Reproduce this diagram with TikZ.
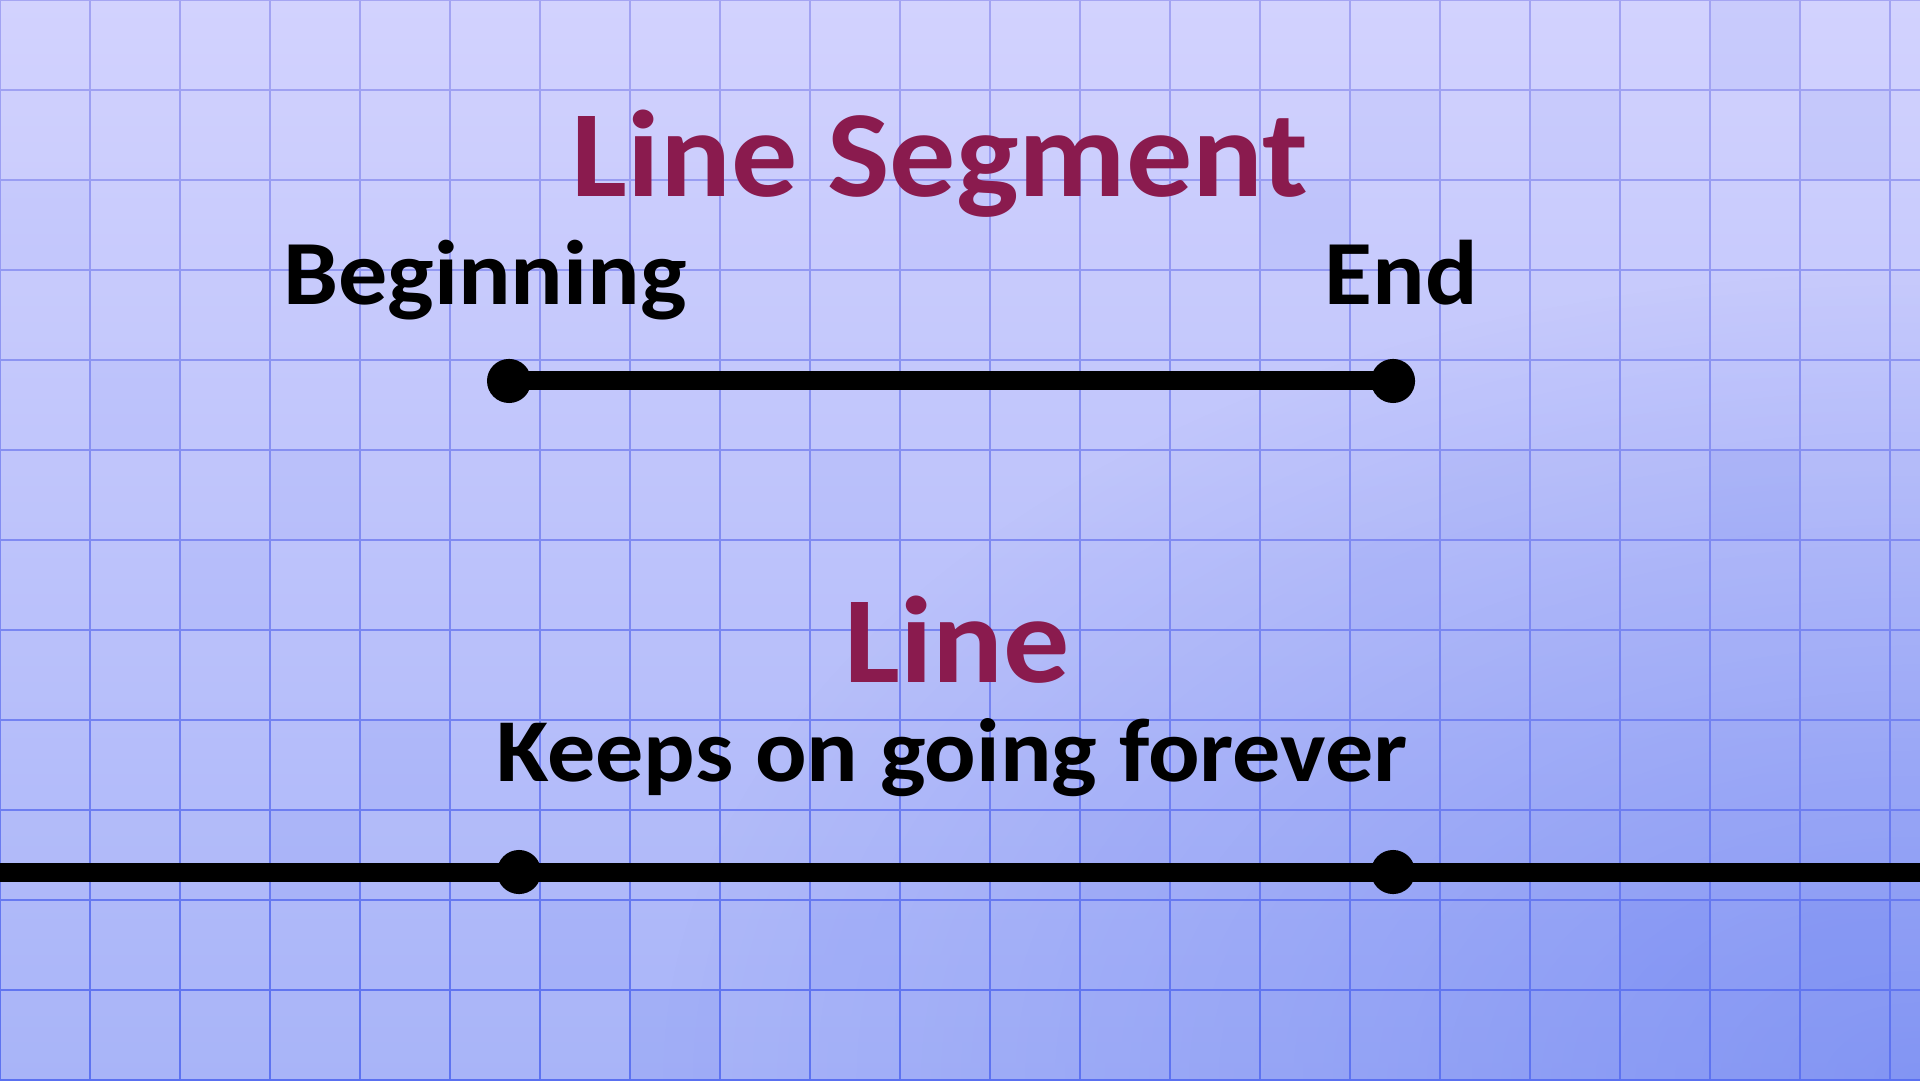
\documentclass[tikz,border=0pt]{standalone}
\usepackage{fontspec}
\usetikzlibrary{fadings}
\setmainfont{Carlito}[FakeStretch=1.07]
\definecolor{bgtop}{RGB}{210,210,254}
\definecolor{bgmid}{RGB}{199,203,253}
\definecolor{bgbot}{RGB}{168,180,248}
\definecolor{gridtop}{RGB}{165,165,242}
\definecolor{gridbot}{RGB}{90,112,240}
\definecolor{maroon}{RGB}{138,27,78}
\definecolor{tileblue}{RGB}{90,115,238}
\tikzfading[name=cornerfade, inner color=transparent!0, outer color=transparent!100]
\pgfdeclarelayer{back}
\pgfdeclarelayer{wires}
\pgfsetlayers{back,wires,main}
\begin{document}
\begin{tikzpicture}[x=1cm,y=1cm,
  title/.style={font=\bfseries\fontsize{39}{39}\selectfont, text=maroon, anchor=base, inner sep=0pt},
  caption/.style={font=\bfseries\fontsize{29}{29}\selectfont, text=black, anchor=base, inner sep=0pt},
  subcaption/.style={caption, font=\bfseries\fontsize{28.4}{28.4}\selectfont},
  dot/.style={circle, fill=black, minimum size=0.49cm, inner sep=0pt},
  seg/.style={line width=6pt, black}]
\useasboundingbox (0,0) rectangle (21.3333,12);
\begin{pgfonlayer}{back}
\begin{scope}
\clip (0,0) rectangle (21.3333,12);
\shade[top color=bgtop, middle color=bgmid, bottom color=bgbot] (0,0) rectangle (21.3333,12);
\fill[tileblue, path fading=cornerfade, fill opacity=0.48] (7.3333,-9) rectangle (35.3333,9);
\end{scope}
% shaded tiles
\foreach \c/\r/\o in {14/2/0.09, 15/1/0.05, 19/0/0.07, 20/1/0.07, 17/1/0.05, 10/2/0.05,
  19/5/0.11, 16/5/0.05, 15/6/0.06, 1/4/0.05, 3/5/0.06, 9/5/0.05, 2/6/0.06, 4/8/0.07,
  3/9/0.08, 6/10/0.08, 7/11/0.10, 9/10/0.08, 18/10/0.12, 20/10/0.12, 0/2/0.04, 12/9/0.05}
  \fill[tileblue, opacity=\o] (\c,11-\r) rectangle ++(1,1);
% grid
\foreach \r in {0,...,11} {
  \pgfmathtruncatemacro\p{(\r+0.5)/12*100}
  \foreach \c in {0,...,21}
    \draw[line width=0.7pt, draw=gridbot!\p!gridtop] (\c,12-\r) -- (\c,11-\r);
}
\foreach \r in {0,...,12} {
  \pgfmathtruncatemacro\p{\r/12*100}
  \draw[line width=0.7pt, draw=gridbot!\p!gridtop] (0,12-\r) -- (21.3333,12-\r);
}
\end{pgfonlayer}
% line segment
\node[title] (ttl) at (10.444,9.822) {Line Segment};
\node[caption] (beg) at (5.389,8.622) {Beginning};
\node[caption] (end) at (15.567,8.622) {End};
\node[dot] (a) at (5.656,7.767) {};
\node[dot] (b) at (15.478,7.767) {};
% line
\node[title] (ln) at (10.633,4.422) {Line};
\node[subcaption] (keeps) at (10.578,3.322) {Keeps on going forever};
\coordinate (L) at (0,2.311);
\coordinate (R) at (21.3333,2.311);
\node[dot] (c) at (5.767,2.311) {};
\node[dot] (d) at (15.478,2.311) {};
\begin{pgfonlayer}{wires}
\draw[seg] (a.center) -- (b.center);
\draw[seg] (L) -- (c.center) -- (d.center) -- (R);
\end{pgfonlayer}
\end{tikzpicture}
\end{document}
